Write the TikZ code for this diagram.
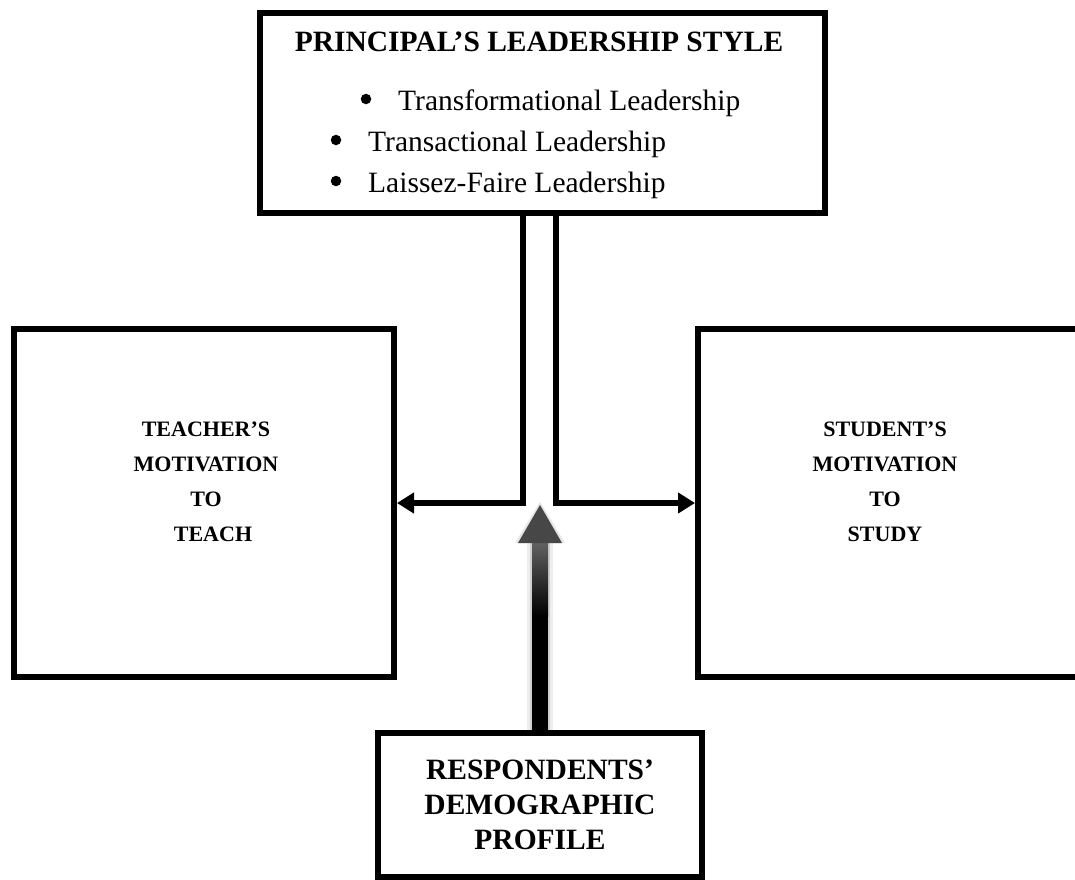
\documentclass[tikz,border=0pt]{standalone}
\usepackage{fontspec}
\setmainfont{Liberation Serif}
\usetikzlibrary{arrows.meta,calc,positioning}

\begin{document}
\begin{tikzpicture}[x=1pt,y=-1pt,
every node/.style={font=\fontsize{29.5}{35}\selectfont},
frame/.style={draw,line width=6pt,rectangle,inner sep=0pt},
heading/.style={font=\fontsize{29.5}{35}\selectfont\bfseries,align=center},
sidehead/.style={font=\fontsize{22}{35}\selectfont\bfseries,align=center},
item/.style={anchor=base west,inner sep=0pt},
dot/.style={circle,fill,inner sep=0pt,minimum size=10.5pt},
conn/.style={line width=6pt,-{Triangle[length=17pt,width=20pt]}}]
\useasboundingbox (0,0) rectangle (1075,879);
\clip (0,0) rectangle (1075,879);
% boxes
\node[frame,minimum width=565pt,minimum height=200pt] (style) at (542.5,113) {};
\node[frame,minimum width=380pt,minimum height=348pt] (teacher) at (204,503) {};
\node[frame,minimum width=392pt,minimum height=348pt] (student) at (894,503) {};
\node[frame,heading,minimum width=324pt,minimum height=144pt] (profile) at (540,805) {RESPONDENTS’\\DEMOGRAPHIC\\PROFILE};
% box texts
\node[heading] (title) at (539,42) {PRINCIPAL’S LEADERSHIP STYLE};
\node[dot] (b1) at (366,99) {};
\node[item] (s1) at (398,110) {Transformational Leadership};
\node[dot] (b2) at (336,140) {};
\node[item] (s2) at (368,151) {Transactional Leadership};
\node[dot] (b3) at (336,181) {};
\node[item] (s3) at (368,192) {Laissez-Faire Leadership};
\node[sidehead] (teacherlabel) at (206,482) {TEACHER’S\\MOTIVATION\\TO\\\hspace{14pt}TEACH};
\node[sidehead] (studentlabel) at (885,482) {STUDENT’S\\MOTIVATION\\TO\\STUDY};
% links from the leadership box
\draw[conn] ([xshift=-19.5pt]style.south) |- (teacher);
\draw[conn] ([xshift=13.5pt]style.south) |- (student);
% shaded arrow from the profile box
\coordinate (tip) at (540,505);
\fill[black,opacity=.07] ($(tip)+(-13,38)$) rectangle ($(profile.north)+(13,0)$);
\fill[black,opacity=.12] ($(tip)+(-10,38)$) rectangle ($(profile.north)+(10,0)$);
\fill[black,opacity=.1] ($(tip)+(0,-3)$) -- ++(-25,41) -- ++(50,0) -- cycle;
\fill[black] ($(tip)+(-8,110)$) rectangle ($(profile.north)+(8,0)$);
\shade[top color=black!62,bottom color=black] ($(tip)+(-8,38)$) rectangle ($(tip)+(8,111)$);
\fill[black!72] (tip) -- ++(-22,38) -- ++(44,0) -- cycle;
\end{tikzpicture}
\end{document}
